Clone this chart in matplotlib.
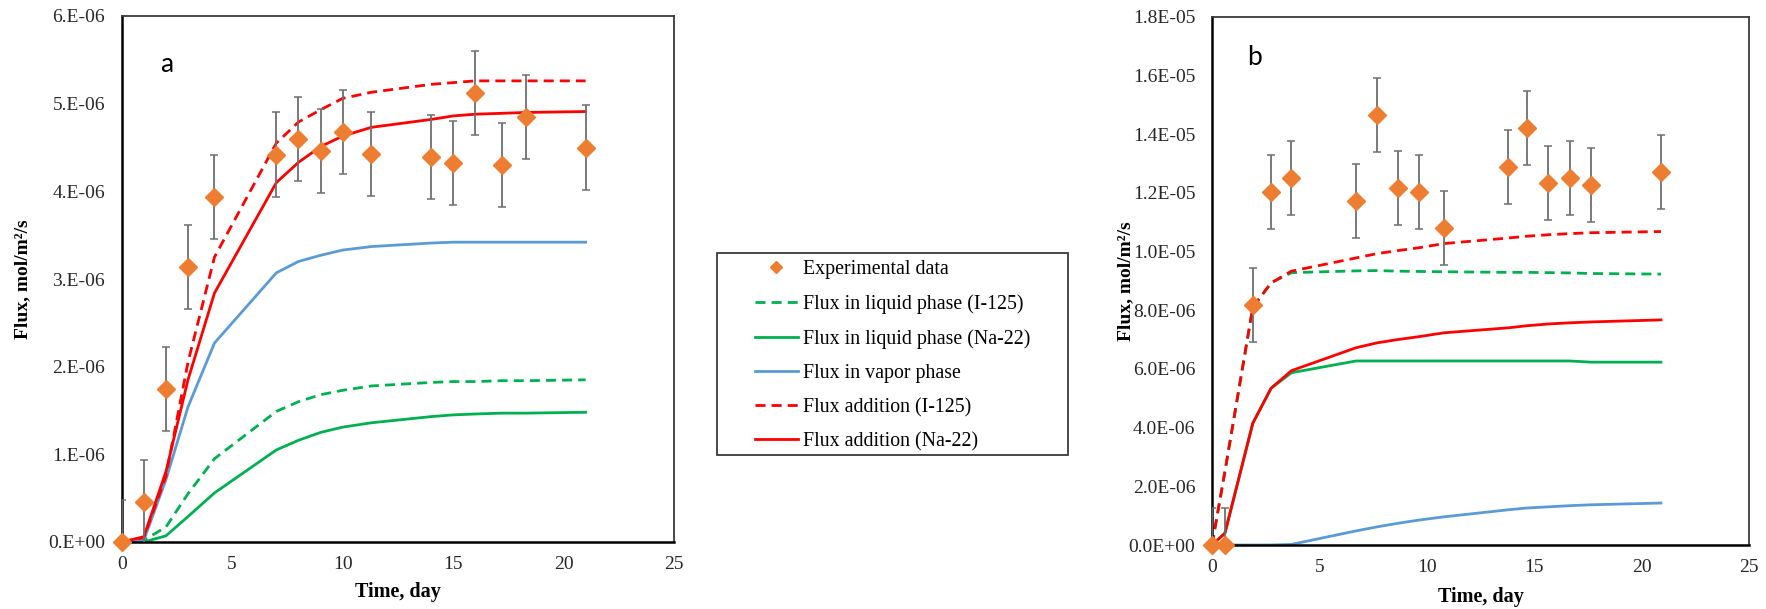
"""Two-panel flux comparison (I-125 / Na-22), experimental data vs model curves."""

import matplotlib

matplotlib.use("Agg")
import matplotlib.pyplot as plt
from matplotlib.lines import Line2D
from matplotlib.patches import Rectangle
from matplotlib.ticker import FuncFormatter, MultipleLocator

plt.rcParams["font.family"] = ["Liberation Serif", "DejaVu Serif"]

# ---- panel a (values in 1e-6 mol/m2/s) ----
TIME_A = [0, 1, 2, 3, 4.2, 7, 8, 9, 10, 11.3, 14, 15, 16, 17.2, 18.3, 21]
EXP_A = [0, 0.46, 1.75, 3.14, 3.94, 4.42, 4.60, 4.46, 4.68, 4.43, 4.39, 4.32, 5.12, 4.30, 4.85, 4.50]
ERR_A = 0.48
LIQ_I125_A = [0, 0.02, 0.17, 0.55, 0.95, 1.49, 1.60, 1.68, 1.73, 1.78, 1.82, 1.83, 1.83, 1.84, 1.84, 1.85]
LIQ_NA22_A = [0, 0.0, 0.07, 0.29, 0.56, 1.05, 1.16, 1.25, 1.31, 1.36, 1.43, 1.45, 1.46, 1.47, 1.47, 1.48]
VAPOR_A = [0, 0.02, 0.71, 1.54, 2.27, 3.07, 3.20, 3.27, 3.33, 3.37, 3.41, 3.42, 3.42, 3.42, 3.42, 3.42]
ADD_I125_A = [0, 0.05, 0.75, 2.05, 3.25, 4.55, 4.79, 4.93, 5.06, 5.13, 5.22, 5.24, 5.26, 5.26, 5.26, 5.26]
ADD_NA22_A = [0, 0.06, 0.80, 1.85, 2.84, 4.10, 4.33, 4.51, 4.63, 4.73, 4.82, 4.86, 4.88, 4.89, 4.90, 4.91]

# ---- panel b (values in 1e-6 mol/m2/s) ----
TIME_B = [0, 0.6, 1.9, 2.75, 3.7, 6.7, 7.7, 8.65, 9.65, 10.8, 13.8, 14.65, 15.65, 16.65, 17.65, 20.9]
EXP_B = [0, 0, 8.19, 12.03, 12.50, 11.71, 14.65, 12.16, 12.02, 10.81, 12.88, 14.22, 12.32, 12.52, 12.26, 12.70]
ERR_B = 1.26
LIQ_I125_B = [0, 2.5, 8.1, 8.93, 9.28, 9.34, 9.35, 9.33, 9.32, 9.31, 9.29, 9.29, 9.28, 9.27, 9.25, 9.23]
LIQ_NA22_B = [0, 0.40, 4.15, 5.34, 5.87, 6.27, 6.27, 6.27, 6.27, 6.27, 6.27, 6.27, 6.27, 6.27, 6.23, 6.23]
VAPOR_B = [0, 0, 0, 0, 0.02, 0.48, 0.62, 0.74, 0.85, 0.96, 1.20, 1.26, 1.30, 1.34, 1.37, 1.43]
ADD_I125_B = [0, 2.5, 8.1, 8.93, 9.33, 9.78, 9.93, 10.03, 10.13, 10.27, 10.46, 10.52, 10.57, 10.61, 10.64, 10.68]
ADD_NA22_B = [0, 0.40, 4.15, 5.34, 5.94, 6.72, 6.89, 7.00, 7.10, 7.23, 7.40, 7.47, 7.53, 7.57, 7.60, 7.67]

LABELS = [
    "Experimental data",
    "Flux in liquid phase (I-125)",
    "Flux in liquid phase (Na-22)",
    "Flux in vapor phase",
    "Flux addition (I-125)",
    "Flux addition (Na-22)",
]

ORANGE = "#ED7D31"
GREEN = "#00B050"
BLUE = "#5B9BD5"
RED = "#FF0000"
ERR_GRAY = "#6E6E6E"
DASH = (3.6, 2.2)
LW = 2.0

W, H = 1766, 609


def scale(values):
    return [v * 1e-6 for v in values]


def draw_panel(ax, t, exp, err, liq_i, liq_na, vap, add_i, add_na):
    ax.plot(t, scale(liq_i), color=GREEN, lw=LW, dashes=DASH, label=LABELS[1])
    ax.plot(t, scale(liq_na), color=GREEN, lw=LW, label=LABELS[2])
    ax.plot(t, scale(vap), color=BLUE, lw=LW, label=LABELS[3])
    ax.plot(t, scale(add_i), color=RED, lw=LW, dashes=DASH, label=LABELS[4])
    ax.plot(t, scale(add_na), color=RED, lw=LW, label=LABELS[5])
    ax.errorbar(t, scale(exp), yerr=err * 1e-6, fmt="none", ecolor=ERR_GRAY,
                elinewidth=1.3, capsize=2.6, capthick=1.1, zorder=4)
    ax.plot(t, scale(exp), ls="none", marker="D", ms=8.8, color=ORANGE,
            mec=ORANGE, clip_on=False, zorder=5, label=LABELS[0])


def style_axes(ax, ymax, ystep, fmt):
    ax.set_xlim(0, 25)
    ax.set_ylim(0, ymax)
    ax.xaxis.set_major_locator(MultipleLocator(5))
    ax.yaxis.set_major_locator(MultipleLocator(ystep))
    ax.yaxis.set_major_formatter(FuncFormatter(lambda v, _: fmt.format(v)))
    ax.tick_params(length=0, labelsize=14, colors="#262626")
    ax.tick_params(axis="y", pad=12)
    ax.tick_params(axis="x", pad=10)
    for side in ("top", "right"):
        ax.spines[side].set_color("#3a3a3a")
        ax.spines[side].set_linewidth(1.3)
    for side in ("left", "bottom"):
        ax.spines[side].set_color("black")
        ax.spines[side].set_linewidth(1.8)
    ax.set_xlabel("Time, day", fontsize=14.5, fontweight="bold")
    ax.set_ylabel("Flux, mol/m²/s", fontsize=14, fontweight="bold")


fig = plt.figure(figsize=(W / 100, H / 100), dpi=100)
ax_a = fig.add_axes([121.7 / W, 1 - 542 / H, (674 - 121.7) / W, (542 - 16) / H])
ax_b = fig.add_axes([1212 / W, 1 - 545 / H, (1749 - 1212) / W, (545 - 16.7) / H])

draw_panel(ax_a, TIME_A, EXP_A, ERR_A, LIQ_I125_A, LIQ_NA22_A, VAPOR_A, ADD_I125_A, ADD_NA22_A)
draw_panel(ax_b, TIME_B, EXP_B, ERR_B, LIQ_I125_B, LIQ_NA22_B, VAPOR_B, ADD_I125_B, ADD_NA22_B)

style_axes(ax_a, 6e-6, 1e-6, "{:#.0E}")
style_axes(ax_b, 1.8e-5, 2e-6, "{:.1E}")
ax_a.yaxis.set_label_coords(-0.164, 0.5)
ax_b.yaxis.set_label_coords(-0.145, 0.5)
ax_a.xaxis.set_label_coords(0.5, -0.076)
ax_b.xaxis.set_label_coords(0.5, -0.079)

ax_a.text(0.069, 0.894, "a", transform=ax_a.transAxes, fontsize=19,
          family=["Lato", "DejaVu Sans"], va="baseline", ha="left")
ax_b.text(0.0646, 0.909, "b", transform=ax_b.transAxes, fontsize=19,
          family=["Lato", "DejaVu Sans"], va="baseline", ha="left")

# legend: frame drawn as a rectangle, entries placed inside it
fig.add_artist(Rectangle((717 / W, 1 - 455 / H), (1068 - 717) / W, (455 - 253) / H,
                         transform=fig.transFigure, fill=False, ec="#3a3a3a", lw=1.3))
handles = [
    Line2D([], [], ls="none", marker="D", ms=6.5, color=ORANGE),
    Line2D([], [], color=GREEN, lw=LW, dashes=DASH),
    Line2D([], [], color=GREEN, lw=LW),
    Line2D([], [], color=BLUE, lw=LW),
    Line2D([], [], color=RED, lw=LW, dashes=DASH),
    Line2D([], [], color=RED, lw=LW),
]
fig.legend(handles, LABELS, loc="upper left", bbox_to_anchor=(755 / W, 1 - 260 / H),
           bbox_transform=fig.transFigure, frameon=False, fontsize=14.3,
           handlelength=2.15, handletextpad=0.27, labelspacing=0.76,
           borderpad=0, borderaxespad=0, numpoints=1)

fig.savefig("out.png", dpi=100)
